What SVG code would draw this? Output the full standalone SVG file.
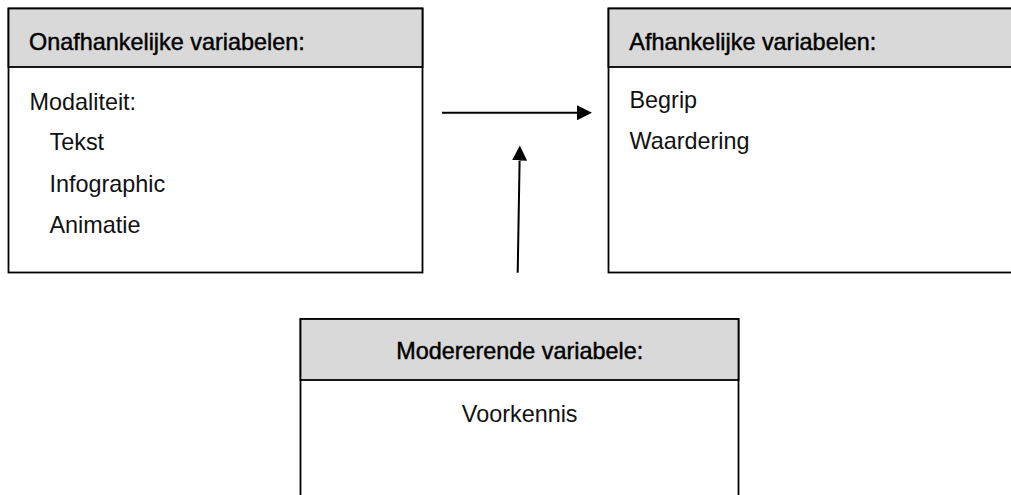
<svg xmlns="http://www.w3.org/2000/svg" width="1011" height="495" viewBox="0 0 1011 495">
<style>
.box{fill:#fff;stroke:#000;stroke-width:1.8}
.hdr{fill:#d9d9d9;stroke:#000;stroke-width:1.8}
.t{font-family:"Liberation Sans",Arial,sans-serif;font-size:23.4px;fill:#111}
.h{font-family:"Liberation Sans",Arial,sans-serif;font-size:23.4px;fill:#000;stroke:#000;stroke-width:0.45}
.c{fill:none;stroke:#000;stroke-width:2}
</style>
<defs>
<marker id="ah" markerUnits="userSpaceOnUse" markerWidth="16" markerHeight="16" refX="0" refY="7.5" orient="auto">
<path d="M0,0 L15,7.5 L0,15 z" fill="#000"/>
</marker>
</defs>
<rect width="1011" height="495" fill="#fff"/>
<g id="onafhankelijk">
<rect class="box" x="8.5" y="8.5" width="414" height="264"/>
<rect class="hdr" x="8.5" y="8.5" width="414" height="58.5"/>
<text class="h" x="29" y="50">Onafhankelijke variabelen:</text>
<text class="t" x="29.5" y="109.5">Modaliteit:</text>
<text class="t" x="49.5" y="150">Tekst</text>
<text class="t" x="49.5" y="191.5">Infographic</text>
<text class="t" x="49.5" y="233">Animatie</text>
</g>
<g id="afhankelijk">
<rect class="box" x="608.5" y="8.5" width="420" height="264"/>
<rect class="hdr" x="608.5" y="8.5" width="420" height="58.5"/>
<text class="h" x="629.3" y="50">Afhankelijke variabelen:</text>
<text class="t" x="629.5" y="107.5">Begrip</text>
<text class="t" x="629.5" y="148.5">Waardering</text>
</g>
<g id="modererend">
<rect class="box" x="300.5" y="319" width="438" height="200"/>
<rect class="hdr" x="300.5" y="319" width="438" height="61"/>
<text class="h" x="519.7" y="358.5" text-anchor="middle">Modererende variabele:</text>
<text class="t" x="519.7" y="421.5" text-anchor="middle">Voorkennis</text>
</g>
<g id="connectors">
<line class="c" x1="442" y1="112.7" x2="577" y2="112.7" marker-end="url(#ah)"/>
<line class="c" x1="517.7" y1="272.7" x2="519.6" y2="160.5" marker-end="url(#ah)"/>
</g>
</svg>
